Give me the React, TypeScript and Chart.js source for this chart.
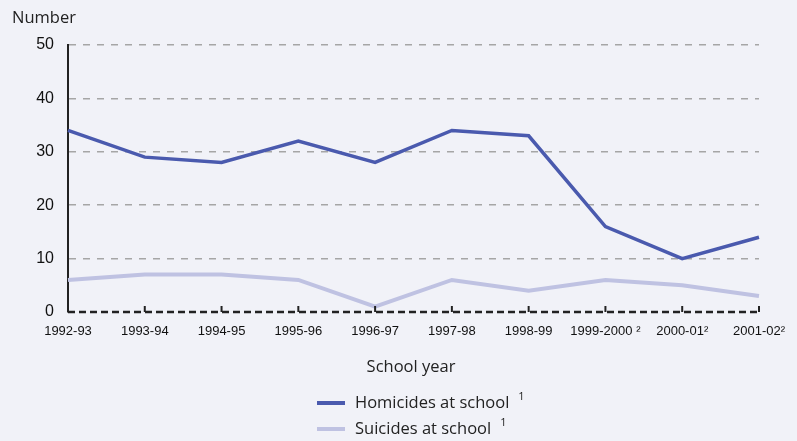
import React, { useEffect, useRef } from "react";
import { Chart, registerables } from "chart.js";

Chart.register(...registerables);

const categories = ["1992-93", "1993-94", "1994-95", "1995-96", "1996-97", "1997-98", "1998-99", "1999-2000", "2000-01", "2001-02"];
const categoryNotes = ["", "", "", "", "", "", "", " ²", "²", "²"];
const homicides = [34, 29, 28, 32, 28, 34, 33, 16, 10, 14];
const suicides = [6, 7, 7, 6, 1, 6, 4, 6, 5, 3];
const seriesNames = ["Homicides at school", "Suicides at school"];
const seriesNotes = ["1", "1"];
const yTicks = [0, 10, 20, 30, 40, 50];

const BG = "#f1f2f8";
const C_HOM = "#4a5aae";
const C_SUI = "#bfc2e2";
const TEXT_FONT = '"Open Sans", "Noto Sans", sans-serif';
const TICK_FONT = '"Liberation Sans", Arial, sans-serif';

const decorPlugin = {
  id: "decor",
  beforeDraw(chart: any) {
    const { ctx, width, height } = chart;
    ctx.save();
    ctx.fillStyle = BG;
    ctx.fillRect(0, 0, width, height);
    ctx.restore();
  },
  afterDraw(chart: any) {
    const { ctx, chartArea } = chart;
    const xs = chart.scales.x;
    ctx.save();
    // dashed baseline
    ctx.strokeStyle = "#222";
    ctx.lineWidth = 2.5;
    ctx.setLineDash([7, 4]);
    ctx.beginPath();
    ctx.moveTo(chartArea.left, chartArea.bottom);
    ctx.lineTo(chartArea.right, chartArea.bottom);
    ctx.stroke();
    ctx.setLineDash([]);
    // inward tick marks
    ctx.lineWidth = 2;
    for (let i = 1; i < categories.length; i++) {
      const x = xs.getPixelForTick(i);
      ctx.beginPath();
      ctx.moveTo(x, chartArea.bottom);
      ctx.lineTo(x, chartArea.bottom - 6);
      ctx.stroke();
    }
    // texts
    ctx.fillStyle = "#222";
    ctx.textBaseline = "middle";
    ctx.textAlign = "left";
    ctx.font = `16.5px ${TEXT_FONT}`;
    ctx.fillText("Number", 12, 18);
    ctx.textAlign = "center";
    ctx.fillText("School year", 411, 367);
    // legend
    const ds = chart.data.datasets;
    const rows = [403, 429];
    ds.forEach((d: any, i: number) => {
      const y = rows[i];
      ctx.strokeStyle = d.borderColor;
      ctx.lineWidth = 4;
      ctx.beginPath();
      ctx.moveTo(317, y);
      ctx.lineTo(345, y);
      ctx.stroke();
      ctx.fillStyle = "#222";
      ctx.textAlign = "left";
      ctx.font = `16.5px ${TEXT_FONT}`;
      ctx.fillText(d.label, 355, y);
      const w = ctx.measureText(d.label).width;
      ctx.font = `11px ${TEXT_FONT}`;
      ctx.fillText(seriesNotes[i], 355 + w + 9, y - 6);
    });
    ctx.restore();
  },
};

export default function App() {
  const ref = useRef<HTMLCanvasElement | null>(null);
  useEffect(() => {
    document.body.style.margin = "0";
    const chart = new Chart(ref.current as HTMLCanvasElement, {
      type: "line",
      data: {
        labels: categories.map((c, i) => c + categoryNotes[i]),
        datasets: [
          { label: seriesNames[0], data: homicides, borderColor: C_HOM, backgroundColor: C_HOM, borderWidth: 3.5, pointRadius: 0, tension: 0 },
          { label: seriesNames[1], data: suicides, borderColor: C_SUI, backgroundColor: C_SUI, borderWidth: 4, pointRadius: 0, tension: 0 },
        ],
      },
      options: {
        animation: false,
        responsive: true,
        maintainAspectRatio: false,
        layout: { padding: { top: 45, right: 37, left: 0, bottom: 0 } },
        plugins: { legend: { display: false }, tooltip: { enabled: false } },
        scales: {
          x: {
            grid: { display: false, drawTicks: false },
            border: { display: false },
            ticks: { font: { family: TICK_FONT, size: 13 }, color: "#111", padding: 12, maxRotation: 0, autoSkip: false },
            afterFit: (s: any) => { s.height = 441 - 312; },
          },
          y: {
            min: 0,
            max: 50,
            afterBuildTicks: (s: any) => { s.ticks = yTicks.map((v) => ({ value: v })); },
            grid: {
              drawTicks: false,
              color: (c: any) => (c.tick && c.tick.value === 0 ? "transparent" : "#a6a6a6"),
              lineWidth: 1.5,
            },
            border: { display: true, color: "#222", width: 2, dash: [7, 7] },
            ticks: { font: { family: TICK_FONT, size: 16 }, color: "#111", padding: 14 },
            afterFit: (s: any) => { s.width = 68; },
          },
        },
      },
      plugins: [decorPlugin],
    });
    return () => chart.destroy();
  }, []);
  return (
    <div style={{ position: "fixed", left: 0, top: 0, width: 797, height: 441, background: BG }}>
      <canvas ref={ref} />
    </div>
  );
}
